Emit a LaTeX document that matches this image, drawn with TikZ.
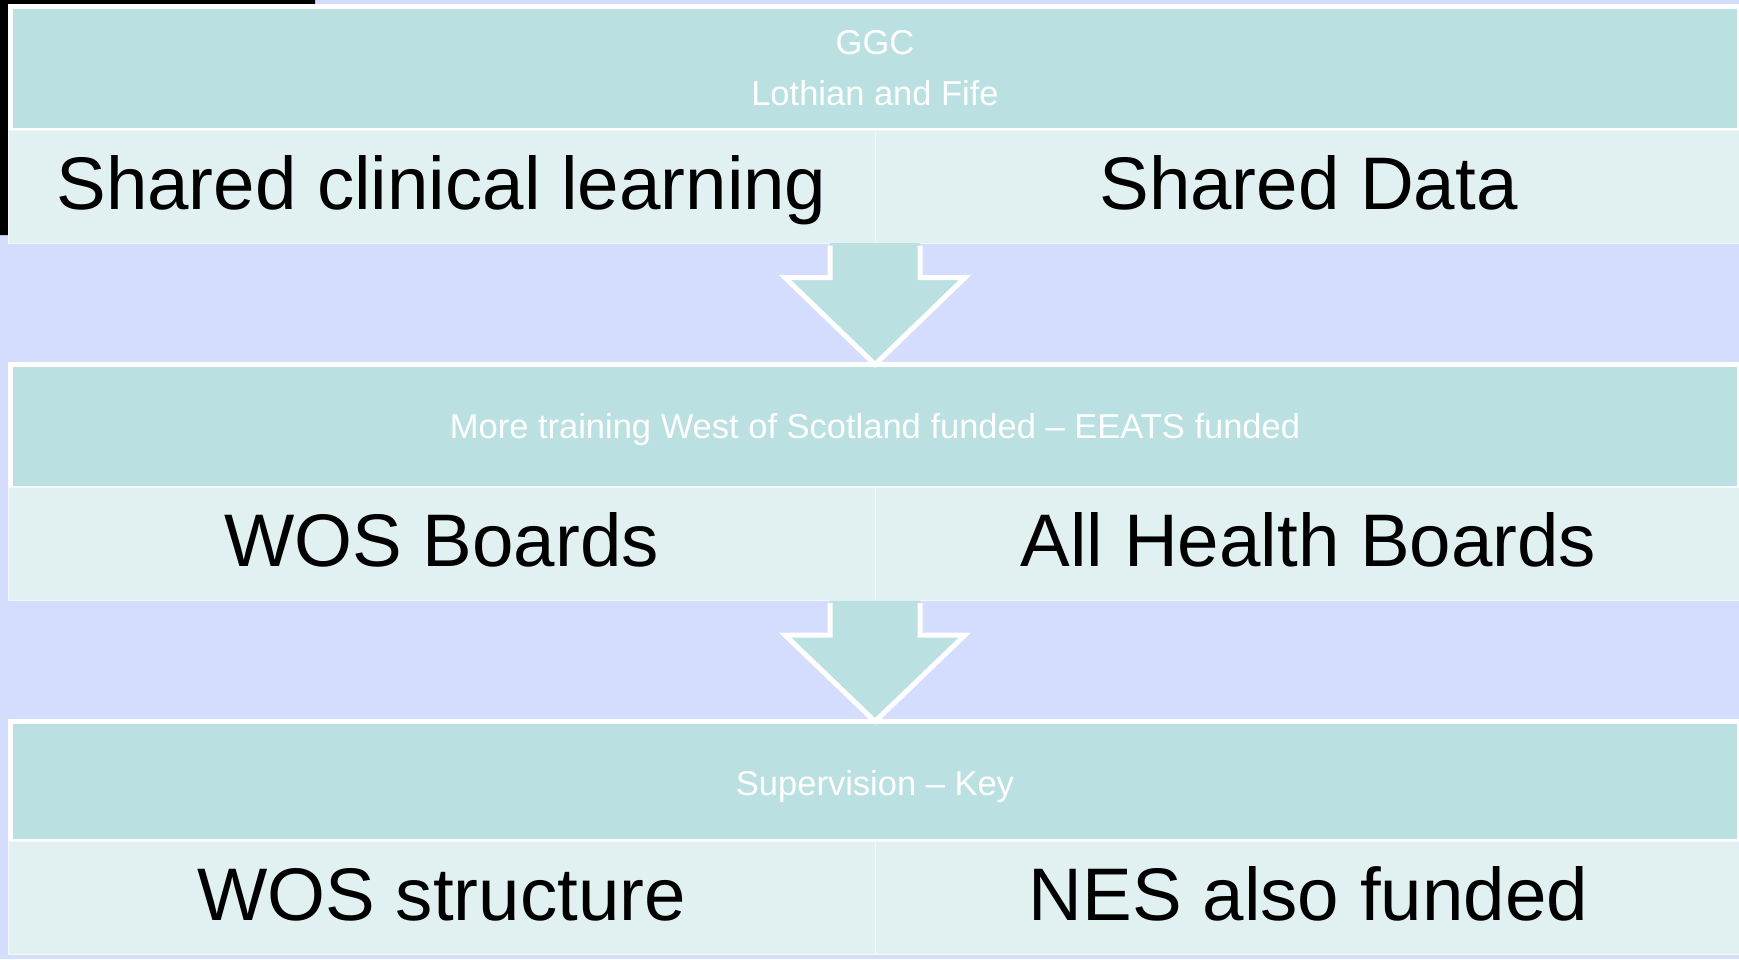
\documentclass[tikz,border=0pt]{standalone}
\usepackage{fontspec}
\setmainfont{Liberation Sans}
\usetikzlibrary{calc}
\definecolor{slidebg}{RGB}{212,221,253}
\definecolor{headfill}{RGB}{186,224,226}
\definecolor{rowfill}{RGB}{225,241,241}
\tikzset{
  head/.style={draw=white, line width=5pt, fill=headfill, text=white,
    inner sep=0pt, outer sep=0pt, minimum width=1729pt, minimum height=123.5pt,
    align=center, font=\fontsize{34.5}{51}\selectfont},
  cell/.style={fill=rowfill, draw=white!50!rowfill, line width=1pt,
    inner sep=0pt, outer sep=0pt, minimum width=867pt, minimum height=113pt,
    text height=60pt, text depth=15pt, font=\fontsize{74.5}{80}\selectfont},
  flow/.style={draw=white, line width=5pt, line join=miter}
}
% block arrow from the row above (#1) down to the next header (#2)
\newcommand{\flowarrow}[2]{%
  \path (#2.north) coordinate (tip) (tip |- #1.south) coordinate (top);
  \fill[headfill] ($(top)+(-45,0)$) -- ($(top)+(-45,34.5)$) -- ($(top)+(-90,34.5)$)
    -- (tip) -- ($(top)+(90,34.5)$) -- ($(top)+(45,34.5)$) -- ($(top)+(45,0)$) -- cycle;
  \draw[flow] ($(top)+(-45,2.5)$) -- ($(top)+(-45,34.5)$) -- ($(top)+(-90,34.5)$)
    -- (tip) -- ($(top)+(90,34.5)$) -- ($(top)+(45,34.5)$) -- ($(top)+(45,2.5)$);
}
\begin{document}
\begin{tikzpicture}[x=1pt,y=-1pt]
\useasboundingbox (0,0) rectangle (1739,959);
\fill[slidebg] (0,0) rectangle (1739,959);
\fill[black] (0,0) -- (315,0) -- (315,4) -- (8,4) -- (8,235) -- (0,235) -- cycle;

% first block
\node[head] (ggc) at (875,68.25) {GGC\\Lothian and Fife};
\node[cell] (clin) at (441.5,186.5) {Shared clinical learning};
\node[cell] (data) at (1308.5,186.5) {Shared Data};

% second block
\node[head, text depth=0pt] (train) at (875,426.25) {More training West of Scotland funded -- EEATS funded};
\node[cell] (wosb) at (441.5,544) {WOS Boards};
\node[cell] (allhb) at (1308.5,544) {All Health Boards};

% third block
\node[head, minimum height=119.5pt, text depth=0pt] (superv) at (875,781.25)
  {\raisebox{-3pt}{Supervision -- Key}};
\node[cell] (wosst) at (441.5,897.5) {WOS structure};
\node[cell] (nes) at (1308.5,897.5) {NES also funded};

\flowarrow{clin}{train}
\flowarrow{wosb}{superv}
\end{tikzpicture}
\end{document}
